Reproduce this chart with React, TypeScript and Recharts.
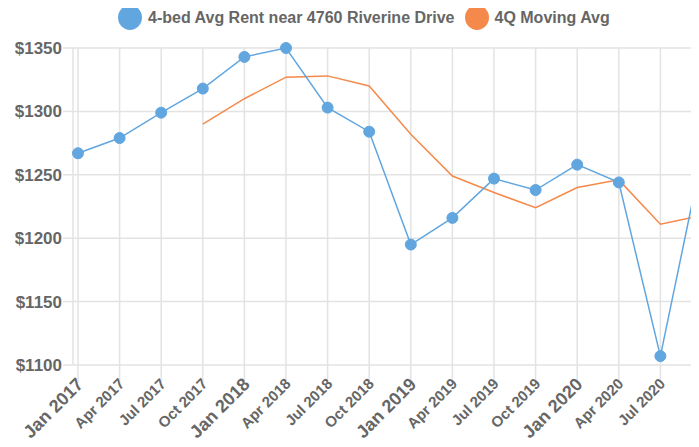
import { LineChart, Line, XAxis, YAxis, CartesianGrid } from 'recharts';

const quarters = [
  'Jan 2017', 'Apr 2017', 'Jul 2017', 'Oct 2017',
  'Jan 2018', 'Apr 2018', 'Jul 2018', 'Oct 2018',
  'Jan 2019', 'Apr 2019', 'Jul 2019', 'Oct 2019',
  'Jan 2020', 'Apr 2020', 'Jul 2020', 'Oct 2020',
];
const avgRent = [
  1267, 1279, 1299, 1318,
  1343, 1350, 1303, 1284,
  1195, 1216, 1247, 1238,
  1258, 1244, 1107, 1265,
];
const movingAvg = [
  null, null, null, 1290,
  1310, 1327, 1328, 1320,
  1282, 1249, 1236, 1224,
  1240, 1246, 1211, 1218,
];
const yTicks = [1100, 1150, 1200, 1250, 1300, 1350];
// the last quarter sits past the visible edge, its label is not shown
const lastShownTick = 'Jul 2020';

const rentName = '4-bed Avg Rent near 4760 Riverine Drive';
const maName = '4Q Moving Avg';

const BLUE = '#62a6e0';
const ORANGE = '#f4894b';
const GRID = '#e3e3e3';
const LABEL = '#666666';
const FONT = '"Liberation Sans", Arial, sans-serif';

const data = quarters.map((q, i) => ({ q, rent: avgRent[i], ma: movingAvg[i] }));

function XTick(props: any) {
  const { x, y, payload, index } = props;
  if (index > quarters.indexOf(lastShownTick)) return null;
  const isJan = payload.value.startsWith('Jan');
  const ax = x + 2;
  const ay = y - 4;
  return (
    <text
      x={ax}
      y={ay}
      transform={`rotate(-45 ${ax} ${ay})`}
      textAnchor="end"
      dy="0.35em"
      fill={LABEL}
      fontFamily={FONT}
      fontWeight="bold"
      fontSize={isJan ? 18 : 15}
    >
      {payload.value}
    </text>
  );
}

function YTick(props: any) {
  const { x, y, payload } = props;
  return (
    <text x={x} y={y} dy="0.35em" textAnchor="end" fill={LABEL} fontFamily={FONT} fontWeight="bold" fontSize={17}>
      {`$${payload.value}`}
    </text>
  );
}

function LegendItem({ color, label }: { color: string; label: string }) {
  return (
    <div style={{ display: 'flex', alignItems: 'center', marginRight: 10 }}>
      <div style={{ width: 24, height: 25, borderRadius: '50%', background: color, marginRight: 6 }} />
      <span style={{ fontFamily: FONT, fontWeight: 'bold', fontSize: 16, color: LABEL }}>{label}</span>
    </div>
  );
}

export default function App() {
  return (
    <div style={{ position: 'relative', width: 699, height: 447, overflow: 'hidden', margin: -8 }}>
      <LineChart width={726} height={447} data={data} margin={{ top: 48, right: 19, bottom: 0, left: 0 }}>
        <CartesianGrid stroke={GRID} strokeWidth={1.5} />
        <XAxis
          dataKey="q"
          interval={0}
          height={82}
          padding={{ left: 5, right: 5 }}
          axisLine={false}
          tickLine={{ stroke: GRID, strokeWidth: 1.5 }}
          tickSize={18}
          tickMargin={2}
          tick={<XTick />}
        />
        <YAxis
          width={73}
          domain={[1100, 1350]}
          ticks={yTicks}
          axisLine={false}
          tickLine={{ stroke: GRID, strokeWidth: 1.5 }}
          tickSize={10}
          tickMargin={1}
          tick={<YTick />}
        />
        <Line
          dataKey="ma"
          name={maName}
          stroke={ORANGE}
          strokeWidth={1.5}
          dot={false}
          isAnimationActive={false}
        />
        <Line
          dataKey="rent"
          name={rentName}
          stroke={BLUE}
          strokeWidth={1.5}
          dot={{ r: 5.5, fill: BLUE, stroke: BLUE, strokeWidth: 1 }}
          isAnimationActive={false}
        />
      </LineChart>
      <div style={{ position: 'absolute', left: 118, top: 5, display: 'flex', zIndex: 2 }}>
        <LegendItem color={BLUE} label={rentName} />
        <LegendItem color={ORANGE} label={maName} />
      </div>
    </div>
  );
}
